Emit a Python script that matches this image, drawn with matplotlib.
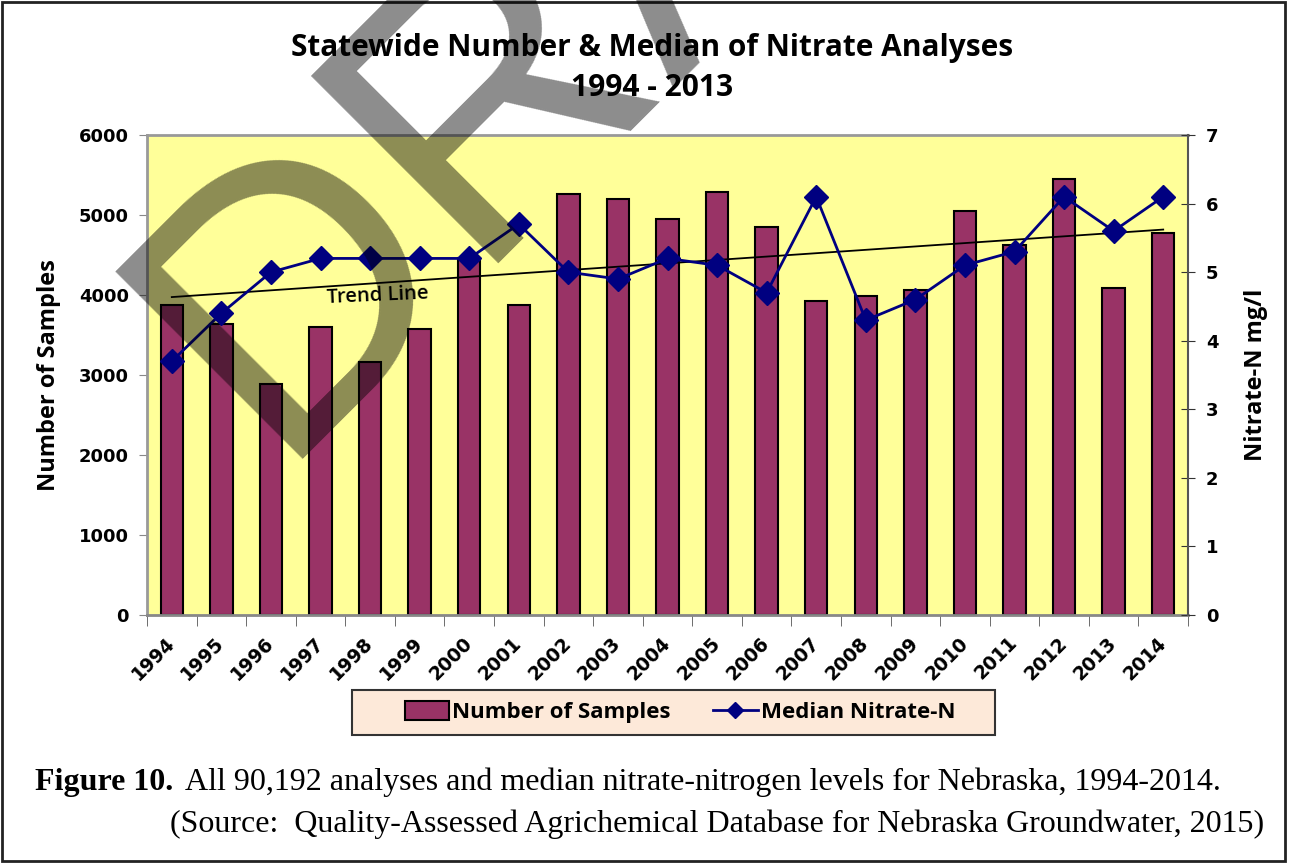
import matplotlib
matplotlib.use('Agg')
import matplotlib.pyplot as plt
from matplotlib.patches import Rectangle, Patch
from matplotlib.lines import Line2D
import numpy as np

years = ['1994', '1995', '1996', '1997', '1998', '1999', '2000', '2001', '2002', '2003', '2004',
         '2005', '2006', '2007', '2008', '2009', '2010', '2011', '2012', '2013', '2014']
samples = [3880, 3640, 2890, 3600, 3160, 3570, 4460, 3870, 5260, 5200, 4950,
           5290, 4850, 3920, 3985, 4060, 5050, 4620, 5445, 4090, 4780]
median_n = [3.7, 4.4, 5.0, 5.2, 5.2, 5.2, 5.2, 5.7, 5.0, 4.9, 5.2,
            5.1, 4.7, 6.1, 4.3, 4.6, 5.1, 5.3, 6.1, 5.6, 6.1]

x = np.arange(len(years))
W, H = 1296, 867

fig = plt.figure(figsize=(12.96, 8.67), dpi=100)

# outer border
fig.patches.append(Rectangle((2/W, 6/H), 1283/W, 859/H, transform=fig.transFigure,
                             fill=False, edgecolor='#222222', lw=2))

ax = fig.add_axes([147/W, 1-615/H, 1041/W, 480/H])
ax.set_facecolor('#FFFF99')
ax.bar(x, samples, width=0.45, color='#993366', edgecolor='black', lw=1.5, zorder=2)
ax.set_xlim(-0.5, len(years)-0.5)
ax.set_ylim(0, 6000)
ax.set_yticks(np.arange(0, 6001, 1000))
ax.set_xticks(x)
ax.set_xticks(np.arange(-0.5, len(years), 1), minor=True)
ax.set_xticklabels(years, rotation=45, ha='right', va='center', rotation_mode='anchor',
                   fontsize=13.5, fontweight='bold')
ax.tick_params(axis='x', which='major', length=0, pad=18)
ax.tick_params(axis='x', which='minor', length=8, direction='out', color='#555555')
ax.tick_params(axis='y', length=6, direction='out', color='#888888', labelsize=13, pad=7)
for lab in ax.get_yticklabels():
    lab.set_fontweight('bold')
for s in ['top', 'left']:
    ax.spines[s].set_color('#999999')
    ax.spines[s].set_linewidth(2)
ax.spines['bottom'].set_color('#888888')
ax.spines['bottom'].set_linewidth(2)
ax.spines['right'].set_visible(False)
ax.set_ylabel('Number of Samples', fontsize=17, fontweight='bold', family='Open Sans',
              labelpad=13)

ax2 = ax.twinx()
ax2.set_ylim(0, 7)
ax2.plot(x, median_n, color='#000080', lw=2, marker='D', ms=12, zorder=4)
k, b = np.polyfit(x, median_n, 1)
ax2.plot(x, k*x + b, color='black', lw=1.3, zorder=3)
ax2.text(4.16, 4.66, 'Trend Line', fontsize=14.5, fontweight='semibold', rotation=2.5,
         ha='center', va='center', family='Open Sans')
ax2.set_yticks(np.arange(0, 8, 1))
ax2.tick_params(axis='y', length=10, direction='inout', labelsize=13, pad=8, color='#333333')
for lab in ax2.get_yticklabels():
    lab.set_fontweight('bold')
for s in ['top', 'left', 'bottom']:
    ax2.spines[s].set_visible(False)
ax2.spines['right'].set_linewidth(1.5)
ax2.spines['right'].set_color('#555555')
ax2.set_ylabel('Nitrate-N mg/l', fontsize=17, fontweight='bold', family='Open Sans',
               labelpad=18)

fig.text(652/W, 1-48/H, 'Statewide Number & Median of Nitrate Analyses',
         ha='center', va='center', fontsize=21.5, family='Open Sans', fontweight='bold')
fig.text(652/W, 1-88/H, '1994 - 2013',
         ha='center', va='center', fontsize=21.5, family='Open Sans', fontweight='bold')

# legend box drawn separately (wide side padding)
fig.patches.append(Rectangle((352/W, 1-735/H), 643/W, 45/H, transform=fig.transFigure,
                             facecolor='#FDE9D9', edgecolor='#333333', lw=1.5, zorder=1))
handles = [Patch(facecolor='#993366', edgecolor='black', lw=1.5),
           Line2D([0], [0], color='#000080', lw=2, marker='D', ms=8)]
leg = fig.legend(handles, ['Number of Samples', 'Median Nitrate-N'], ncol=2,
                 loc='center', bbox_to_anchor=(680/W, 1-712/H), frameon=False,
                 prop={'family': 'Open Sans', 'weight': 'bold', 'size': 16},
                 handlelength=2.0, handleheight=0.9, handletextpad=0.15,
                 columnspacing=1.9, borderpad=0.3, borderaxespad=0)

# caption
t1 = fig.text(35/W, 1-790/H, 'Figure 10.', fontsize=23, family='Liberation Serif',
              fontweight='bold', va='baseline')
fig.canvas.draw()
bb = t1.get_window_extent()
fig.text((bb.x1 + 12)/W, 1-790/H,
         'All 90,192 analyses and median nitrate-nitrogen levels for Nebraska, 1994-2014.',
         fontsize=23, family='Liberation Serif', va='baseline')
fig.text(170/W, 1-832/H,
         '(Source:  Quality-Assessed Agrichemical Database for Nebraska Groundwater, 2015)',
         fontsize=23, family='Liberation Serif', va='baseline')

# DRAFT watermark
fig.text(271/W, 1-459/H, 'DRAFT', fontsize=277, family='Liberation Sans', rotation=45,
         rotation_mode='anchor', ha='left', va='baseline', color='black', alpha=0.45,
         zorder=10)

fig.savefig('out.png', dpi=100)
